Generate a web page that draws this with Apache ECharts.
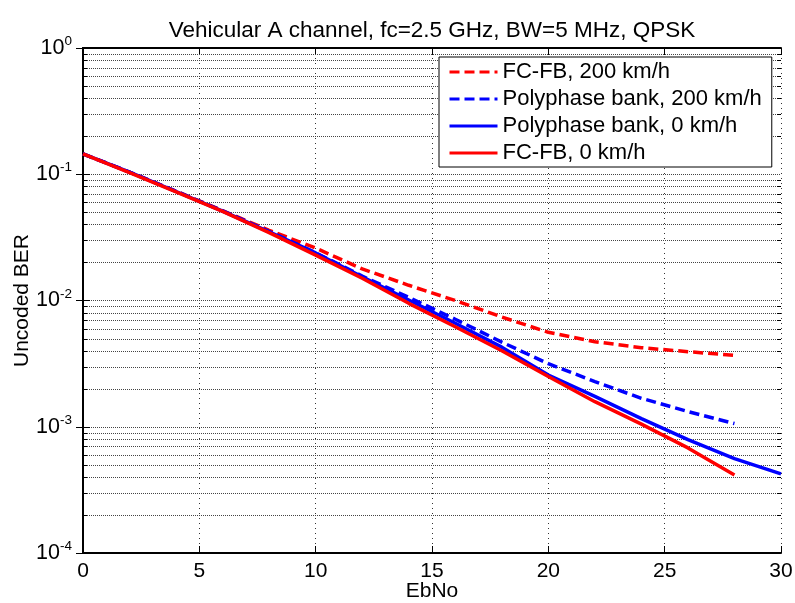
<!DOCTYPE html>
<html>
<head>
<meta charset="utf-8">
<script src="https://cdn.jsdelivr.net/npm/echarts@6/dist/echarts.min.js"></script>
<style>html,body{margin:0;padding:0;background:#fff;}#chart{width:795px;height:603px;}</style>
</head>
<body>
<div id="chart"></div>
<script>
// ---- data ----
const ebno      = [0, 2, 4, 6, 8, 10, 12, 14, 16, 18, 20, 22, 24, 26, 28];
const ebnoLong  = [0, 2, 4, 6, 8, 10, 12, 14, 16, 18, 20, 22, 24, 26, 28, 30];
const fcfb200   = [0.145, 0.104, 0.0735, 0.0515, 0.036, 0.026, 0.0178, 0.0132, 0.0100, 0.0074, 0.0056, 0.00472, 0.00423, 0.00393, 0.00368];
const poly200   = [0.145, 0.104, 0.0732, 0.0512, 0.0352, 0.0239, 0.0156, 0.0106, 0.0071, 0.00468, 0.00316, 0.00228, 0.00168, 0.00132, 0.00106];
const poly0     = [0.145, 0.104, 0.0730, 0.0510, 0.0350, 0.0238, 0.0154, 0.0101, 0.0066, 0.00427, 0.00257, 0.00174, 0.00116, 0.00079, 0.00056, 0.000423];
const fcfb0     = [0.145, 0.103, 0.0725, 0.0508, 0.0345, 0.0229, 0.0150, 0.0095, 0.0062, 0.0040, 0.0025, 0.00158, 0.00105, 0.00068, 0.000415];
const seriesNames = ['FC-FB, 200 km/h', 'Polyphase bank, 200 km/h', 'Polyphase bank, 0 km/h', 'FC-FB, 0 km/h'];
const xTicks = [0, 5, 10, 15, 20, 25, 30];
const yMin = 1e-4, yMax = 1;
const minorMantissas = [2, 3, 4, 5, 6, 7, 8, 9];
const decadeExps = [-4, -3, -2, -1];

const FONT = '"Liberation Sans", Arial, Helvetica, sans-serif';
const pairs = (xs, ys) => ys.map((y, i) => [xs[i], y]);

const xMin = xTicks[0], xMax = xTicks[xTicks.length - 1];
const minorRows = [];
decadeExps.forEach(e => minorMantissas.forEach(m => minorRows.push([xMin, m * Math.pow(10, e)])));

const chart = echarts.init(document.getElementById('chart'), null, {renderer: 'canvas'});

const lineSeries = (name, xs, ys, color, dashed) => ({
  name: name,
  type: 'line',
  data: pairs(xs, ys),
  showSymbol: false,
  symbol: 'none',
  smooth: false,
  z: 5,
  lineStyle: {color: color, width: 3.5, type: dashed ? [10, 5] : 'solid'},
  itemStyle: {color: color}
});

const option = {
  animation: false,
  backgroundColor: '#fff',
  title: {
    text: 'Vehicular A channel, fc=2.5 GHz, BW=5 MHz, QPSK',
    left: 427, top: 14, textAlign: 'center',
    textStyle: {fontFamily: FONT, fontSize: 22.5, fontWeight: 'normal', color: '#000'}
  },
  grid: {left: 83, right: 14, top: 48, bottom: 50, containLabel: false, outerBoundsMode: 'none'},
  legend: {
    orient: 'vertical',
    left: 439, top: 57,
    data: seriesNames,
    itemWidth: 48, itemHeight: 14, itemGap: 5,
    padding: [4, 10, 3, 9],
    borderColor: '#000', borderWidth: 1,
    backgroundColor: '#fff',
    itemStyle: {opacity: 0, borderWidth: 0},
    lineStyle: {width: 3},
    textStyle: {fontFamily: FONT, fontSize: 22, lineHeight: 22, color: '#000'},
    z: 10
  },
  xAxis: [{
    type: 'value', min: xMin, max: xMax, interval: 5, position: 'bottom',
    name: 'EbNo', nameLocation: 'middle', nameGap: 28, nameMoveOverlap: false,
    nameTextStyle: {fontFamily: FONT, fontSize: 21, color: '#000'},
    axisLine: {lineStyle: {color: '#000', width: 2}},
    axisTick: {inside: true, length: 7, lineStyle: {color: '#000', width: 1}},
    axisLabel: {fontFamily: FONT, fontSize: 21, color: '#000', margin: 8},
    splitLine: {show: true, lineStyle: {color: '#333', width: 1, type: [1, 4]}}
  }, {
    type: 'value', min: xMin, max: xMax, interval: 5, position: 'top',
    axisLine: {lineStyle: {color: '#000', width: 2}},
    axisTick: {inside: true, length: 7, lineStyle: {color: '#000', width: 1}},
    axisLabel: {show: false},
    splitLine: {show: false}
  }],
  yAxis: [{
    type: 'log', logBase: 10, min: yMin, max: yMax, position: 'left',
    name: 'Uncoded BER', nameLocation: 'middle', nameGap: 50, nameMoveOverlap: false,
    nameTextStyle: {fontFamily: FONT, fontSize: 21, color: '#000'},
    axisLine: {lineStyle: {color: '#000', width: 2}},
    axisTick: {inside: true, length: 7, lineStyle: {color: '#000', width: 1}},
    axisLabel: {
      margin: 11,
      formatter: v => '{b|10}{s|' + Math.round(Math.log10(v)) + '}',
      rich: {
        b: {fontFamily: FONT, fontSize: 21.5, color: '#000', lineHeight: 27},
        s: {fontFamily: FONT, fontSize: 13.5, color: '#000', lineHeight: 14, verticalAlign: 'top'}
      }
    },
    splitLine: {show: true, lineStyle: {color: '#444', width: 1, type: [1, 1]}}
  }, {
    type: 'log', logBase: 10, min: yMin, max: yMax, position: 'right',
    axisLine: {lineStyle: {color: '#000', width: 2}},
    axisTick: {inside: true, length: 7, lineStyle: {color: '#000', width: 1}},
    axisLabel: {show: false},
    splitLine: {show: false}
  }],
  series: [
    {
      name: 'minorGrid', type: 'custom', silent: true, z: 1,
      xAxisIndex: 0, yAxisIndex: 0,
      encode: {x: 0, y: 1},
      data: minorRows,
      renderItem: (params, api) => {
        const v = api.value(1);
        const p0 = api.coord([xMin, v]);
        const p1 = api.coord([xMax, v]);
        const y = Math.round(p0[1]) + 0.5;
        return {
          type: 'group',
          children: [
            {type: 'line', shape: {x1: p0[0], y1: y, x2: p1[0], y2: y},
             style: {stroke: '#444', lineWidth: 1, lineDash: [1, 1]}},
            {type: 'line', shape: {x1: p0[0], y1: y, x2: p0[0] + 4, y2: y},
             style: {stroke: '#000', lineWidth: 1}},
            {type: 'line', shape: {x1: p1[0], y1: y, x2: p1[0] - 4, y2: y},
             style: {stroke: '#000', lineWidth: 1}}
          ]
        };
      }
    },
    lineSeries(seriesNames[0], ebno, fcfb200, '#ff0000', true),
    lineSeries(seriesNames[1], ebno, poly200, '#0000ff', true),
    lineSeries(seriesNames[2], ebnoLong, poly0, '#0000ff', false),
    lineSeries(seriesNames[3], ebno, fcfb0, '#ff0000', false)
  ]
};
chart.setOption(option);
</script>
</body>
</html>
